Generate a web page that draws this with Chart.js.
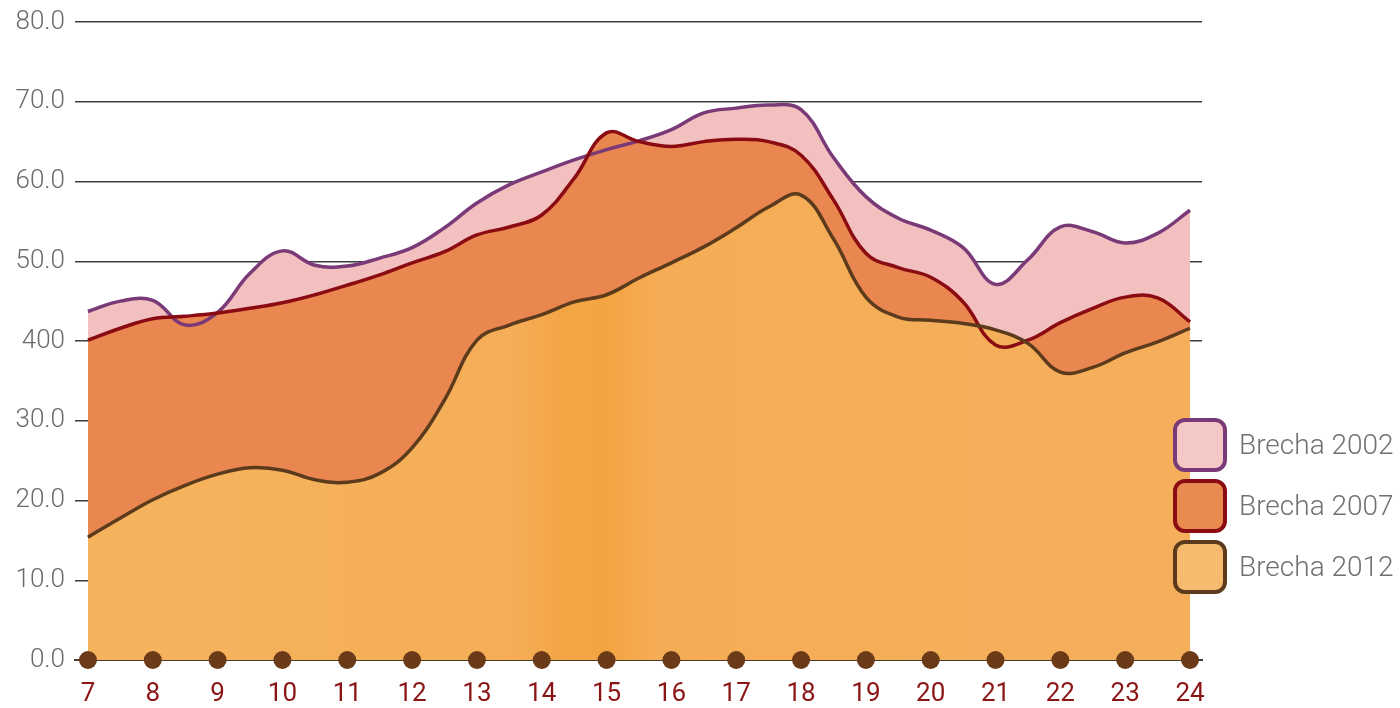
<!DOCTYPE html>
<html><head><meta charset="utf-8">
<script src="https://cdn.jsdelivr.net/npm/chart.js@4.4.1/dist/chart.umd.min.js"></script>
<style>html,body{margin:0;padding:0;background:#fff}#wrap{width:1400px;height:708px}</style>
</head><body><div id="wrap"><canvas id="c" width="1400" height="708"></canvas></div>
<script>
const hourTicks = [7,8,9,10,11,12,13,14,15,16,17,18,19,20,21,22,23,24];
const times = [7,7.5,8,8.5,9,9.5,10,10.5,11,11.5,12,12.5,13,13.5,14,14.5,15,15.5,16,16.5,17,17.5,18,18.5,19,19.5,20,20.5,21,21.5,22,22.5,23,23.5,24];
const brecha2002 = [43.7,45.0,45.1,42.0,43.6,48.5,51.3,49.5,49.4,50.4,51.7,54.2,57.3,59.6,61.2,62.7,64.0,65.1,66.5,68.6,69.2,69.6,69.0,63.0,58.1,55.4,53.9,51.7,47.1,50.2,54.3,53.7,52.3,53.5,56.4];
const brecha2007 = [40.1,41.6,42.8,43.1,43.5,44.1,44.8,45.8,47.0,48.3,49.8,51.2,53.3,54.3,55.8,60.4,66.1,65.0,64.4,65.0,65.3,65.0,63.3,57.7,51.0,49.2,48.0,44.9,39.5,40.1,42.3,44.1,45.5,45.4,42.4];
const brecha2012 = [15.4,17.8,20.1,21.9,23.3,24.1,23.8,22.6,22.3,23.4,26.6,32.6,40.1,42.0,43.3,44.9,45.8,47.9,49.8,51.8,54.2,56.8,58.3,52.8,45.5,43.0,42.6,42.2,41.4,39.7,36.1,36.7,38.5,39.9,41.6];
const yTickLabels = ['0.0','10.0','20.0','30.0','400','50.0','60.0','70.0','80.0'];
const seriesNames = ['Brecha 2002','Brecha 2007','Brecha 2012'];
const lineColors = ['#7a3a78','#8a0c12','#5b3b1c'];
const fillColors = ['#f3c0c0','#ea8650','#f6ae58'];

const toPts = arr => times.map((t,i)=>({x:t,y:arr[i]}));

function fill2012(ctx){
  const ch = ctx.chart; const a = ch.chartArea;
  if(!a) return fillColors[2];
  const g = ch.ctx.createLinearGradient(a.left,0,a.right,0);
  const sx = ch.scales.x;
  const p = v => Math.min(1,Math.max(0,(sx.getPixelForValue(v)-a.left)/(a.right-a.left)));
  g.addColorStop(0,'#f6b35e');
  g.addColorStop(p(13.6),'#f5ae57');
  g.addColorStop(p(14.3),'#f3a545');
  g.addColorStop(p(15),'#f3a442');
  g.addColorStop(p(15.8),'#f5ad55');
  g.addColorStop(1,'#f5af5c');
  return g;
}

const legendPlugin = {
  id:'customLegend',
  afterDraw(chart){
    const c = chart.ctx;
    const x0 = 1175, size = 50, gap = 61, y0 = 420;
    c.save();
    seriesNames.forEach((name,i)=>{
      const y = y0 + i*gap;
      c.beginPath();
      c.roundRect(x0, y, size, size, 10);
      c.fillStyle = i===2 ? '#f7bb70' : (i===1 ? '#e98a50' : '#f5c8c8');
      c.fill();
      c.lineWidth = 4;
      c.strokeStyle = lineColors[i];
      c.stroke();
      c.fillStyle = '#707070';
      c.font = '300 28px Roboto';
      c.textBaseline = 'middle';
      c.textAlign = 'left';
      c.fillText(name, 1239, y + size/2 + 2);
    });
    c.restore();
  }
};

new Chart(document.getElementById('c'), {
  type:'line',
  data:{
    datasets:[
      {label:'dots', data:hourTicks.map(h=>({x:h,y:0})), showLine:false, pointRadius:9, pointHoverRadius:9,
       pointBackgroundColor:'#6b3a17', pointBorderWidth:0, clip:false, order:0},
      {label:seriesNames[2], data:toPts(brecha2012), borderColor:lineColors[2], backgroundColor:fill2012,
       fill:'origin', tension:0.4, pointRadius:0, borderWidth:3.5, order:1},
      {label:seriesNames[1], data:toPts(brecha2007), borderColor:lineColors[1], backgroundColor:fillColors[1],
       fill:'origin', tension:0.4, pointRadius:0, borderWidth:3.5, order:2},
      {label:seriesNames[0], data:toPts(brecha2002), borderColor:lineColors[0], backgroundColor:fillColors[0],
       fill:'origin', tension:0.4, pointRadius:0, borderWidth:3.5, order:3}
    ]
  },
  options:{
    responsive:false, animation:false,
    layout:{padding:{top:22,right:198,bottom:0,left:0}},
    plugins:{legend:{display:false}, tooltip:{enabled:false}, filler:{drawTime:'beforeDatasetsDraw'}},
    scales:{
      x:{type:'linear', min:6.8, max:24.185,
        afterBuildTicks:a=>{a.ticks = hourTicks.map(v=>({value:v}));},
        afterFit:s=>{s.height = 48; s.paddingLeft = 0; s.paddingRight = 0;},
        grid:{display:false, drawTicks:false},
        border:{display:true, color:'#4a3a2c', width:2},
        ticks:{autoSkip:false, maxRotation:0, padding:19, color:'#8b1515',
          font:{family:'Roboto', size:26, weight:'400'}, callback:v=>String(v)}
      },
      y:{min:0, max:80,
        afterBuildTicks:a=>{a.ticks = yTickLabels.map((_,i)=>({value:i*10}));},
        afterFit:s=>{s.width = 75; s.paddingTop = 0; s.paddingBottom = 0;},
        grid:{color:'#3c3c3c', lineWidth:1.5, drawTicks:false},
        border:{display:false},
        ticks:{padding:10, color:'#6a6a6a', font:{family:'Roboto', size:26, weight:'300'},
          callback:(v,i)=>yTickLabels[i]}
      }
    }
  },
  plugins:[legendPlugin]
});
</script></body></html>
